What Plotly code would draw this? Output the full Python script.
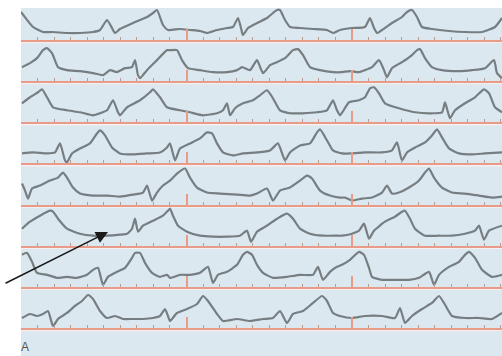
import plotly.graph_objects as go

# ---- data: eight rhythm strips, sample position vs amplitude above baseline ----
t1 = [21,33,43,53,67,80,93,100,107,112,115,120,133,147,153,157,163,168,180,190,200,207,217,227,233,238,241,243,248,257,267,273,277,280,285,290,300,313,327,333,340,352,365,370,374,377,382,392,402,407,412,417,422,432,449,465,482,495,502]
v1 = [28,13,8,8,7,7,8,10,20,12,7,11,17,23,27,30,15,10,11,10,9,7,10,12,13,22,12,5,12,17,22,27,30,30,20,13,12,11,10,7,10,12,13,22,12,7,10,17,23,28,30,23,13,11,9,8,8,13,22]

t2 = [22,30,37,43,47,52,58,67,80,93,103,110,117,125,132,135,138,140,147,157,167,170,177,182,188,200,213,227,237,242,250,257,263,270,277,285,293,298,303,310,320,333,342,350,359,365,372,379,384,387,392,402,412,417,420,425,432,442,459,472,485,494,497,502]
v2 = [14,18,23,31,33,28,14,11,10,8,6,11,9,13,14,21,6,3,11,21,31,31,31,21,13,11,9,9,11,14,11,21,8,16,19,23,31,32,26,14,11,9,9,10,9,11,14,21,11,4,13,19,26,31,32,23,14,11,10,11,13,21,8,3]

t3 = [22,30,38,42,47,53,67,80,93,100,107,113,118,120,127,140,150,153,160,167,180,190,203,217,223,227,230,235,243,253,260,267,273,280,290,303,317,327,333,337,340,349,359,365,370,374,379,385,399,415,432,442,445,448,450,455,465,475,484,489,495,502]
v3 = [19,25,30,33,25,15,12,10,7,9,12,22,10,7,15,22,30,33,25,15,12,10,7,9,12,19,7,14,19,22,27,32,24,12,9,9,10,12,22,12,7,20,22,25,34,35,29,19,14,10,9,10,20,10,4,12,19,25,33,29,15,10]

t4 = [22,33,47,55,60,65,67,72,80,90,97,100,105,112,120,133,147,160,167,170,175,180,190,200,207,212,217,223,233,243,257,270,278,285,290,300,310,317,320,327,333,342,352,365,382,392,397,402,407,415,425,432,437,442,449,459,472,485,502]
v4 = [10,11,10,11,20,3,1,10,15,20,30,33,28,16,10,9,10,11,16,20,3,15,20,25,31,30,20,11,8,10,11,13,20,3,11,18,20,31,34,23,13,10,10,11,11,13,21,3,11,16,21,28,34,26,15,10,9,10,11]

t5 = [22,25,28,32,40,50,58,63,67,73,80,93,107,120,133,143,147,152,157,163,170,177,185,190,197,207,220,237,250,257,267,273,280,290,300,307,312,320,330,340,345,352,362,372,382,387,392,399,409,419,425,429,434,442,452,465,479,492,502]
v5 = [21,14,6,16,19,24,27,32,27,17,11,9,9,8,10,12,19,4,12,19,24,31,36,27,17,12,11,10,9,11,16,4,14,17,24,29,26,14,9,7,7,4,6,7,12,19,11,12,17,24,32,36,27,17,12,11,9,7,8]

t6 = [22,30,40,50,53,58,67,80,93,107,120,127,132,135,138,143,153,163,168,170,173,178,187,200,213,227,240,247,251,257,267,277,287,293,300,310,323,337,342,352,359,364,369,374,385,395,402,405,410,415,425,439,452,465,475,479,484,489,502]
v6 = [17,24,30,35,34,27,17,12,10,10,11,12,17,27,14,20,25,30,35,37,30,20,14,10,9,9,10,15,4,14,20,27,32,27,17,12,10,10,10,12,15,22,7,15,24,29,34,35,27,17,10,10,10,12,15,20,6,15,20]

t7 = [22,27,32,37,47,57,67,77,87,93,98,103,108,117,125,132,135,140,145,152,160,167,170,180,190,200,208,213,218,227,237,243,247,252,257,263,273,287,300,313,318,323,330,337,342,350,359,364,369,372,382,395,409,419,429,434,439,449,459,465,469,475,482,492,502]
v7 = [32,34,25,14,12,9,10,9,12,17,19,2,10,15,19,29,34,34,24,14,10,12,9,12,12,14,20,4,12,15,22,32,35,32,22,14,9,10,12,12,20,7,15,20,22,27,35,32,19,10,7,7,7,9,15,2,12,20,25,32,35,29,17,10,12]

t8 = [22,30,37,43,48,53,58,67,75,82,88,93,100,107,115,123,133,143,153,160,165,168,170,177,187,197,203,208,217,223,237,250,263,273,280,287,293,303,313,322,327,333,340,352,365,382,395,400,405,412,422,432,439,444,452,465,479,492,502]
v8 = [10,14,12,14,17,2,9,15,22,27,33,29,17,10,12,9,9,9,10,12,19,12,7,15,19,24,32,27,14,7,9,7,9,10,17,5,14,17,25,32,27,15,12,10,12,12,10,20,5,12,19,25,32,25,12,10,10,9,15]

strips = [(t1, v1), (t2, v2), (t3, v3), (t4, v4), (t5, v5), (t6, v6), (t7, v7), (t8, v8)]

# ---- layout constants ----
W, H = 502, 356
X0 = 21            # left edge of the strip panel (px)
TOP = 8            # top edge of blue panel (px)
FIRST_BASE = 40    # baseline of first strip (px from top)
STEP = 41.14       # distance between strip baselines (px)
STRIP_H = 40       # strip height (px)

TRACE = "#767e82"
BASELINE = "#e89c88"
PANEL = "#dce8ef"

fig = go.Figure()
layout = dict(
    width=W, height=H,
    margin=dict(l=0, r=0, t=0, b=0),
    paper_bgcolor="white",
    plot_bgcolor="rgba(0,0,0,0)",
    showlegend=False,
    shapes=[],
    annotations=[],
)

layout["shapes"].append(dict(
    type="rect", xref="paper", yref="paper",
    x0=X0 / W, x1=1, y0=0, y1=(H - TOP) / H,
    fillcolor=PANEL, line=dict(width=0), layer="below",
))

for k, (t, v) in enumerate(strips):
    n = "" if k == 0 else str(k + 1)
    base = FIRST_BASE + STEP * k
    y_bot = (H - base) / H
    y_top = min(1.0, (H - base + STRIP_H) / H)
    fig.add_trace(go.Scatter(
        x=t, y=v, mode="lines",
        line=dict(color=TRACE, width=2.2, shape="spline", smoothing=0.5),
        xaxis="x" + n, yaxis="y" + n, hoverinfo="skip",
    ))
    layout["xaxis" + n] = dict(
        domain=[X0 / W, 1], range=[X0, W], anchor="y" + n,
        showline=True, linecolor=BASELINE, linewidth=2,
        ticks="inside", ticklen=11, tickwidth=2, tickcolor=BASELINE,
        tick0=X0, dtick=165.5, showticklabels=False,
        showgrid=False, zeroline=False,
        minor=dict(ticks="inside", ticklen=3, tickwidth=1,
                   tickcolor="#b99b95", dtick=16.55, tick0=X0, showgrid=False),
    )
    layout["yaxis" + n] = dict(
        domain=[y_bot, y_top], range=[0, STRIP_H], anchor="x" + n,
        visible=False, showgrid=False, zeroline=False,
    )
    # pale band just under each baseline
    yb = (H - base - 2.2) / H
    layout["shapes"].append(dict(
        type="line", xref="paper", yref="paper",
        x0=X0 / W, x1=1, y0=yb, y1=yb,
        line=dict(color="rgba(248,240,240,0.9)", width=2), layer="below",
    ))

# arrow pointing to a strip segment
layout["annotations"].append(dict(
    x=108 / W, y=(H - 232) / H, xref="paper", yref="paper",
    ax=-104, ay=52, axref="pixel", ayref="pixel",
    showarrow=True, arrowhead=2, arrowsize=1.6, arrowwidth=1.5,
    arrowcolor="#1a1a1a", text="",
))
# panel letter at the bottom-left corner
layout["annotations"].append(dict(
    x=25 / W, y=0, xref="paper", yref="paper",
    xanchor="center", yanchor="bottom", showarrow=False,
    text="A", font=dict(family="Liberation Sans, Arial", size=12, color="#555"),
))

fig.update_layout(**layout)
fig.write_html("out.html")
